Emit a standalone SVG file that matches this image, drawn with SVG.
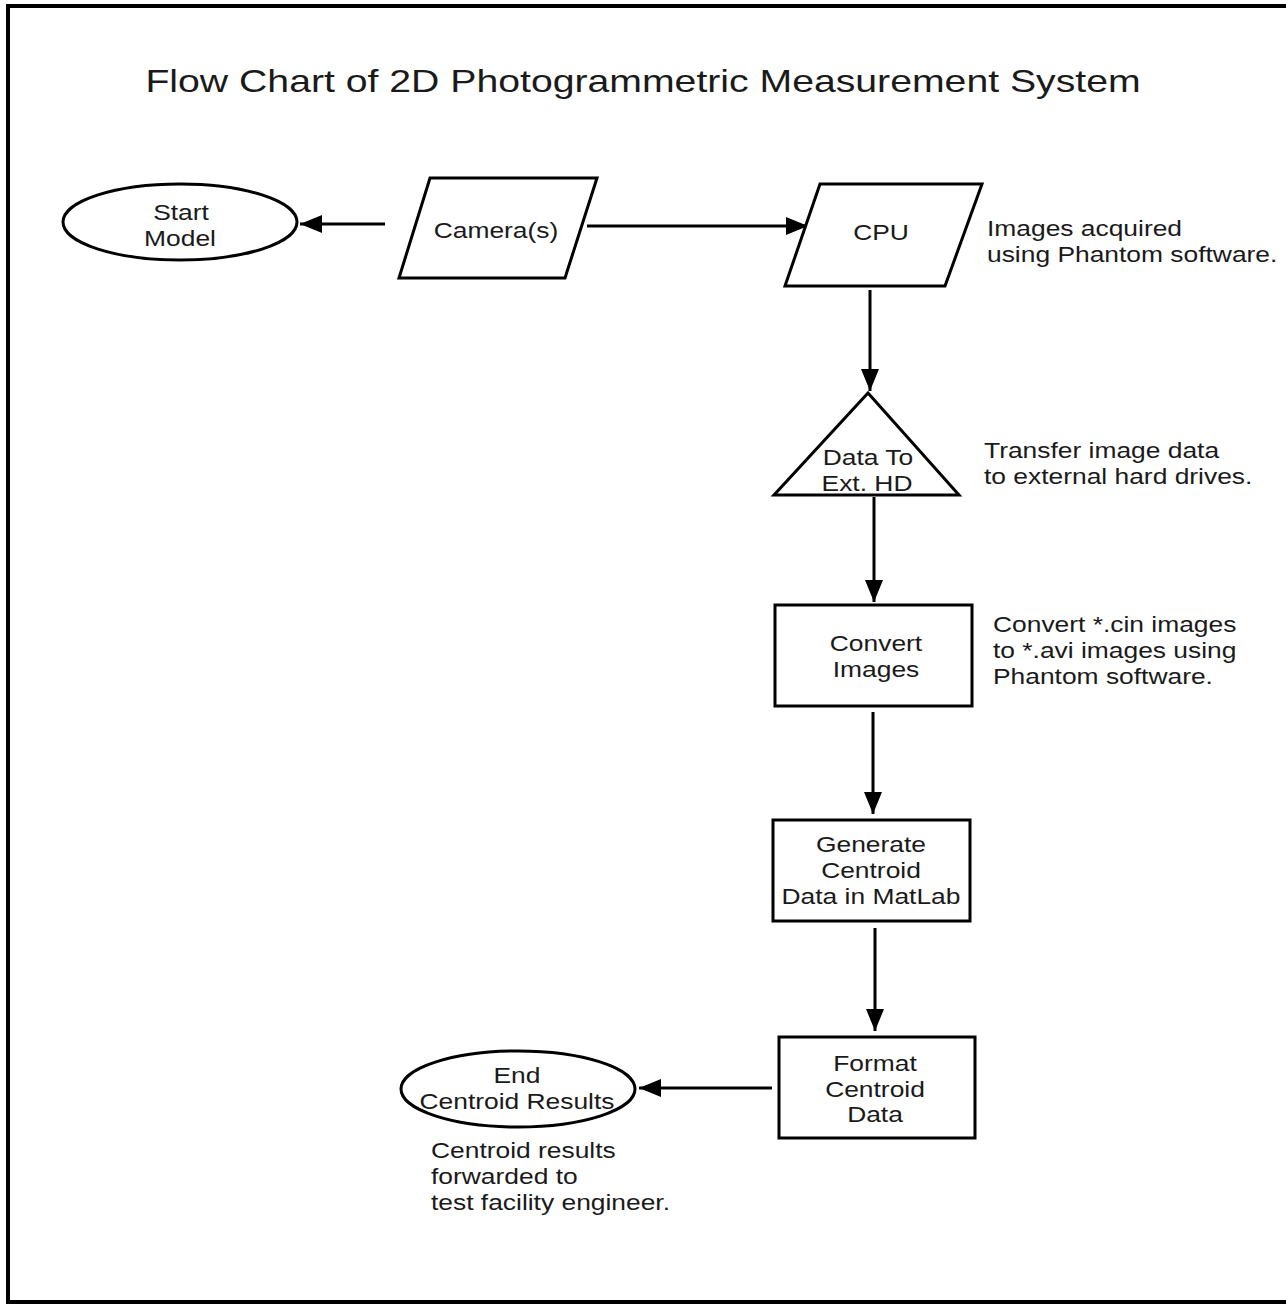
<svg xmlns="http://www.w3.org/2000/svg" width="1286" height="1304" viewBox="0 0 1286 1304">
<style>
.s{fill:#fff;stroke:#000;stroke-width:3}
.c{stroke:#000;stroke-width:3;fill:none}
.t{font-family:"Liberation Sans",Arial,sans-serif;font-size:22px;fill:#1a1a1a}
.m{text-anchor:middle}
.title{font-family:"Liberation Sans",Arial,sans-serif;font-size:32px;fill:#1a1a1a;text-anchor:middle}
</style>
<defs>
<marker id="ah" markerUnits="userSpaceOnUse" markerWidth="24" markerHeight="20" viewBox="0 0 24 20" refX="22" refY="10" orient="auto">
<path d="M0,1 L22,10 L0,19 Z" fill="#000"/>
</marker>
</defs>
<rect width="1286" height="1304" fill="#fff"/>
<rect x="8" y="6" width="1290" height="1296" fill="none" stroke="#000" stroke-width="4"/>
<text class="title" transform="translate(643 92) scale(1.225 1)">Flow Chart of 2D Photogrammetric Measurement System</text>

<g id="connectors">
<line class="c" x1="385" y1="224" x2="300" y2="224" marker-end="url(#ah)"/>
<line class="c" x1="587" y1="226" x2="808" y2="226" marker-end="url(#ah)"/>
<line class="c" x1="870" y1="290" x2="870" y2="391" marker-end="url(#ah)"/>
<line class="c" x1="874" y1="497" x2="874" y2="602" marker-end="url(#ah)"/>
<line class="c" x1="873" y1="712" x2="873" y2="814" marker-end="url(#ah)"/>
<line class="c" x1="875" y1="928" x2="875" y2="1031" marker-end="url(#ah)"/>
<line class="c" x1="772" y1="1088" x2="639" y2="1088" marker-end="url(#ah)"/>
</g>

<g id="start">
<ellipse class="s" cx="180" cy="222" rx="117" ry="38"/>
<text class="t m" transform="translate(181 220) scale(1.2 1)">Start</text>
<text class="t m" transform="translate(180 246) scale(1.2 1)">Model</text>
</g>

<g id="camera">
<polygon class="s" points="430,178 597,178 565,278 399,278"/>
<text class="t m" transform="translate(496 238) scale(1.2 1)">Camera(s)</text>
</g>

<g id="cpu">
<polygon class="s" points="820,184 982,184 945,286 785,286"/>
<text class="t m" transform="translate(881 240) scale(1.2 1)">CPU</text>
</g>
<g id="note-cpu">
<text class="t" transform="translate(987 236) scale(1.2 1)">Images acquired</text>
<text class="t" transform="translate(987 262) scale(1.2 1)">using Phantom software.</text>
</g>

<g id="datato">
<polygon class="s" points="868,393 959,495 774,495"/>
<text class="t m" transform="translate(868 465) scale(1.2 1)">Data To</text>
<text class="t m" transform="translate(867 491) scale(1.2 1)">Ext. HD</text>
</g>
<g id="note-data">
<text class="t" transform="translate(984 458) scale(1.2 1)">Transfer image data</text>
<text class="t" transform="translate(984 484) scale(1.2 1)">to external hard drives.</text>
</g>

<g id="convert">
<rect class="s" x="775" y="605" width="197" height="101"/>
<text class="t m" transform="translate(876 651) scale(1.2 1)">Convert</text>
<text class="t m" transform="translate(876 677) scale(1.2 1)">Images</text>
</g>
<g id="note-convert">
<text class="t" transform="translate(993 632) scale(1.2 1)">Convert *.cin images</text>
<text class="t" transform="translate(993 658) scale(1.2 1)">to *.avi images using</text>
<text class="t" transform="translate(993 684) scale(1.2 1)">Phantom software.</text>
</g>

<g id="generate">
<rect class="s" x="773" y="820" width="197" height="101"/>
<text class="t m" transform="translate(871 852) scale(1.2 1)">Generate</text>
<text class="t m" transform="translate(871 878) scale(1.2 1)">Centroid</text>
<text class="t m" transform="translate(871 904) scale(1.2 1)">Data in MatLab</text>
</g>

<g id="format">
<rect class="s" x="779" y="1037" width="196" height="101"/>
<text class="t m" transform="translate(875 1071) scale(1.2 1)">Format</text>
<text class="t m" transform="translate(875 1097) scale(1.2 1)">Centroid</text>
<text class="t m" transform="translate(875 1122) scale(1.2 1)">Data</text>
</g>

<g id="end">
<ellipse class="s" cx="518" cy="1089" rx="117" ry="38"/>
<text class="t m" transform="translate(517 1083) scale(1.2 1)">End</text>
<text class="t m" transform="translate(517 1109) scale(1.2 1)">Centroid Results</text>
</g>
<g id="note-end">
<text class="t" transform="translate(431 1158) scale(1.2 1)">Centroid results</text>
<text class="t" transform="translate(431 1184) scale(1.2 1)">forwarded to</text>
<text class="t" transform="translate(431 1210) scale(1.2 1)">test facility engineer.</text>
</g>
</svg>
